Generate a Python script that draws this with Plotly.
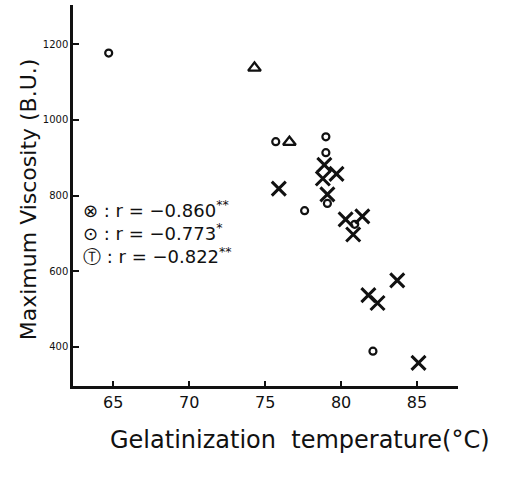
import plotly.graph_objects as go

# Data (gelatinization temperature °C, maximum viscosity B.U.)
circle_x = [64.7, 75.7, 79.0, 79.0, 79.1, 77.6, 80.9, 82.1]
circle_y = [1176, 942, 955, 913, 779, 760, 724, 389]

triangle_x = [74.3, 76.6]
triangle_y = [1137, 941]

cross_x = [78.9, 79.7, 78.8, 75.9, 79.1, 80.3, 81.4, 80.8, 83.7, 81.8, 82.4, 85.1]
cross_y = [881, 857, 845, 818, 803, 737, 745, 697, 576, 537, 516, 358]

x_ticks = [65, 70, 75, 80, 85]
y_ticks = [400, 600, 800, 1000, 1200]

legend_lines = ["⊗ : r = −0.860<sup>**</sup>",
                "⊙ : r = −0.773<sup>*</sup>",
                "Ⓣ : r = −0.822<sup>**</sup>"]

ink = "#111111"
fig = go.Figure()
fig.add_trace(go.Scatter(x=circle_x, y=circle_y, mode="markers",
                         marker=dict(symbol="circle-open", size=7, color=ink,
                                     line=dict(width=2.2, color=ink))))
fig.add_trace(go.Scatter(x=triangle_x, y=triangle_y, mode="markers",
                         marker=dict(symbol="triangle-up-open", size=11, color=ink,
                                     line=dict(width=2.4, color=ink))))
fig.add_trace(go.Scatter(x=cross_x, y=cross_y, mode="markers",
                         marker=dict(symbol="x-thin", size=14, color=ink,
                                     line=dict(width=3, color=ink))))

fig.update_layout(
    width=513, height=478,
    margin=dict(l=73, r=55, t=5, b=92),
    paper_bgcolor="white", plot_bgcolor="white",
    showlegend=False,
    font=dict(family="DejaVu Sans", color=ink),
    xaxis=dict(range=[62.35, 87.7], tickvals=x_ticks, ticktext=[str(v) for v in x_ticks],
               showgrid=False, zeroline=False, showline=True, linecolor=ink, linewidth=2.5,
               ticks="inside", ticklen=5, tickwidth=1.5, tickcolor=ink,
               tickfont=dict(size=16, family="DejaVu Sans", color=ink)),
    yaxis=dict(range=[297, 1303], tickvals=y_ticks, ticktext=[str(v) for v in y_ticks],
               showgrid=False, zeroline=False, showline=True, linecolor=ink, linewidth=2.5,
               ticks="inside", ticklen=6, tickwidth=1.5, tickcolor=ink,
               tickfont=dict(size=10, family="DejaVu Sans", color=ink)),
)

fig.add_annotation(text="Gelatinization  temperature(°C)", xref="paper", yref="paper",
                   x=0.59, y=-0.142, xanchor="center", yanchor="middle", showarrow=False,
                   font=dict(size=24, family="DejaVu Sans", color=ink))
fig.add_annotation(text="Maximum Viscosity (B.U.)", xref="paper", yref="paper",
                   x=-0.117, y=0.49, xanchor="center", yanchor="middle", showarrow=False,
                   textangle=-90, font=dict(size=22, family="DejaVu Sans", color=ink))
fig.add_annotation(text="<br>".join(legend_lines), xref="paper", yref="paper",
                   x=0.02, y=0.404, xanchor="left", yanchor="middle", align="left",
                   showarrow=False, font=dict(size=18, family="DejaVu Sans", color=ink))

fig.write_html("out.html")
